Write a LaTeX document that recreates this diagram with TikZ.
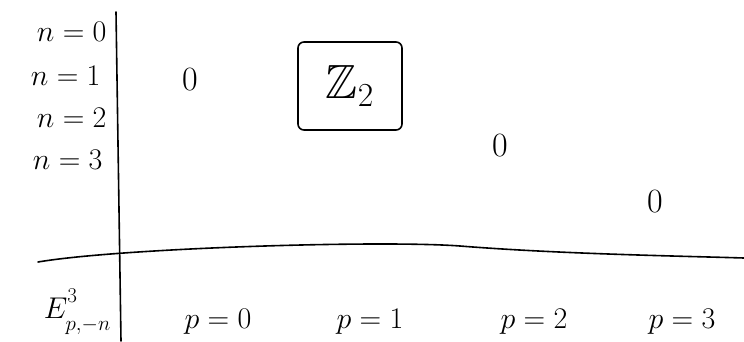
\RequirePackage{fix-cm}
\documentclass[tikz,border=0pt]{standalone}
\usepackage{amssymb}
\usepackage{tikz}
\usetikzlibrary{positioning}
\tikzset{
  axis/.style={line width=1.6pt, line cap=round},
  rowlabel/.style={anchor=east, font=\fontsize{30}{34}\selectfont},
  collabel/.style={font=\fontsize{30}{34}\selectfont},
  entry/.style={font=\fontsize{34}{38}\selectfont},
  boxed/.style={draw, line width=1.6pt, rounded corners=6pt, minimum width=104pt, minimum height=88pt, font=\fontsize{32}{36}\selectfont}
}
\begin{document}
\begin{tikzpicture}[x=1pt,y=-1pt]
  \useasboundingbox (0,0) rectangle (744,341);
  % axes
  \coordinate (vtop) at (116,12);
  \coordinate (vbot) at (121,341);
  \coordinate (hleft) at (38,262);
  \coordinate (hright) at (744,258);
  \draw[axis] (vtop) -- (vbot);
  \draw[axis] (hleft) .. controls (120,248) and (380,240) .. (460,246)
    .. controls (560,254) and (680,256) .. (hright);
  % rows
  \node[rowlabel] (n0) at (110,32) {$n=0$};
  \node[rowlabel] (n1) at (104,76) {$n=1$};
  \node[rowlabel] (n2) at (110,118) {$n=2$};
  \node[rowlabel] (n3) at (106,160) {$n=3$};
  % columns
  \node[collabel] (p0) at (218,322) {$p=0$};
  \node[collabel] (p1) at (370,322) {$p=1$};
  \node[collabel] (p2) at (534,322) {$p=2$};
  \node[collabel] (p3) at (682,322) {$p=3$};
  \node[collabel, anchor=east, inner sep=1pt] (E) at (112,312)
    {$E^{\raisebox{5pt}{$\scriptstyle 3$}}_{\raisebox{-5pt}{$\scriptstyle p,-n$}}$};
  % entries
  \node[entry] (e01) at (190,80) {$0$};
  \node[boxed] (e11) at (350,86) {\scalebox{1.5}{$\mathbb{Z}_2$}};
  \node[entry] (e22) at (500,146) {$0$};
  \node[entry] (e33) at (655,202) {$0$};
\end{tikzpicture}
\end{document}
